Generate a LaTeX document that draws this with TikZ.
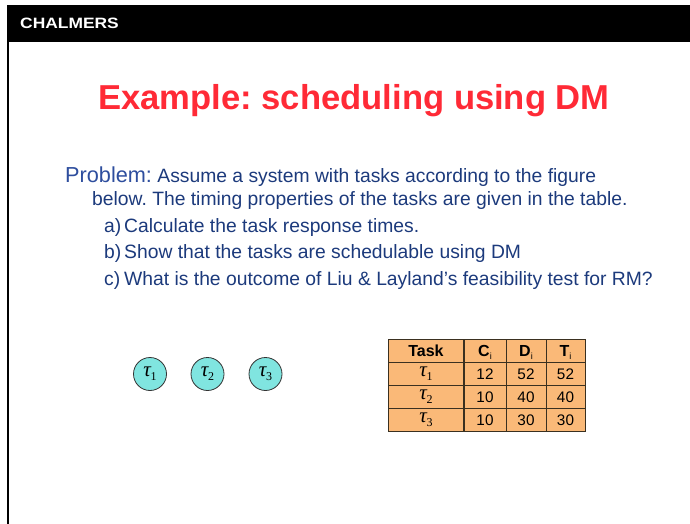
\documentclass[tikz,border=0pt]{standalone}
\usepackage{fontspec}
\setmainfont{Liberation Sans}
\newfontfamily\serifgr{Liberation Serif}
\definecolor{titlered}{HTML}{FF2A36}
\definecolor{probc}{HTML}{2E4E9E}
\definecolor{bodyc}{HTML}{1C3A7C}
\definecolor{cyanf}{HTML}{80E5E0}
\definecolor{orangef}{HTML}{FAB978}
\definecolor{gridc}{HTML}{3A3020}
\tikzset{
  txt/.style={anchor=base west, inner sep=0pt, text=bodyc, font=\fontsize{19.3}{23}\selectfont},
  task/.style={circle, draw=black!80, fill=cyanf, minimum size=33pt, inner sep=0pt, line width=0.8pt},
  cell/.style={anchor=base, inner sep=0pt, text=black, font=\fontsize{15.3}{15}\selectfont},
  hcell/.style={anchor=base, inner sep=0pt, text=black, font=\fontsize{16}{16}\bfseries},
  tcell/.style={anchor=center, inner sep=0pt, text=black}
}
\newcommand{\subi}{\raisebox{-3pt}{\fontsize{9}{9}\mdseries i}}
\newcommand{\tauk}[1]{{\serifgr\fontsize{21}{21}\selectfont\itshape τ\kern-0.5pt\raisebox{-4pt}{\upshape\fontsize{12}{12}\selectfont #1}}}
\begin{document}
\frenchspacing
\begin{tikzpicture}[x=1pt,y=-1pt]
\useasboundingbox (0,0) rectangle (690,524);
\fill[white] (0,0) rectangle (690,524);
% header bar
\fill[black] (7,5) rectangle (690,42);
\fill[black] (7,42) rectangle (9,524);
\node[anchor=base west, inner sep=0pt, text=white, font=\fontsize{15}{15}\bfseries] (logo) at (20,29) {\scalebox{1.16}[1]{CHALMERS}};
% title
\node[anchor=base, inner sep=0pt, text=titlered, font=\fontsize{34.6}{36}\bfseries] (title) at (354,110) {Example: scheduling using DM};
% body text
\node[txt] (l1) at (65,182) {{\color{probc}\fontsize{21.7}{23}\selectfont Problem:} Assume a system with tasks according to the figure};
\node[txt] (l2) at (92,205) {below. The timing properties of the tasks are given in the table.};
\node[txt] (la) at (104,232) {a)};
\node[txt] (la2) at (124,232) {Calculate the task response times.};
\node[txt] (lb) at (104,258) {b)};
\node[txt] (lb2) at (124,258) {Show that the tasks are schedulable using DM};
\node[txt] (lc) at (104,285) {c)};
\node[txt] (lc2) at (124,285) {What is the outcome of Liu \& Layland’s feasibility test for RM?};
% task circles
\node[task] (t1) at (150,374) {\tauk{1}};
\node[task] (t2) at (207.5,374) {\tauk{2}};
\node[task] (t3) at (265.5,374) {\tauk{3}};
% table
\fill[orangef] (388,339) rectangle (585,431);
\draw[draw=gridc, line width=1pt] (388,362) -- (585,362);
\draw[draw=gridc, line width=1pt] (388,385) -- (585,385);
\draw[draw=gridc, line width=1pt] (388,408) -- (585,408);
\draw[draw=gridc, line width=1pt] (506,339) -- (506,431);
\draw[draw=gridc, line width=1pt] (546,339) -- (546,431);
\draw[draw=gridc, line width=2pt] (464,339) -- (464,431);
\draw[draw=gridc, line width=1pt] (388,339) rectangle (585,431);
\node[hcell] (hTask) at (426,356.5) {Task};
\node[hcell] (hC) at (485,356.5) {C\subi};
\node[hcell] (hD) at (526,356.5) {D\subi};
\node[hcell] (hT) at (565.5,356.5) {T\subi};
\node[tcell] (r1) at (426,374) {\tauk{1}};
\node[tcell] (r2) at (426,397) {\tauk{2}};
\node[tcell] (r3) at (426,420) {\tauk{3}};
\node[cell] (c1) at (485,379) {12};
\node[cell] (d1) at (526,379) {52};
\node[cell] (e1) at (565.5,379) {52};
\node[cell] (c2) at (485,402) {10};
\node[cell] (d2) at (526,402) {40};
\node[cell] (e2) at (565.5,402) {40};
\node[cell] (c3) at (485,425) {10};
\node[cell] (d3) at (526,425) {30};
\node[cell] (e3) at (565.5,425) {30};
\end{tikzpicture}
\end{document}
